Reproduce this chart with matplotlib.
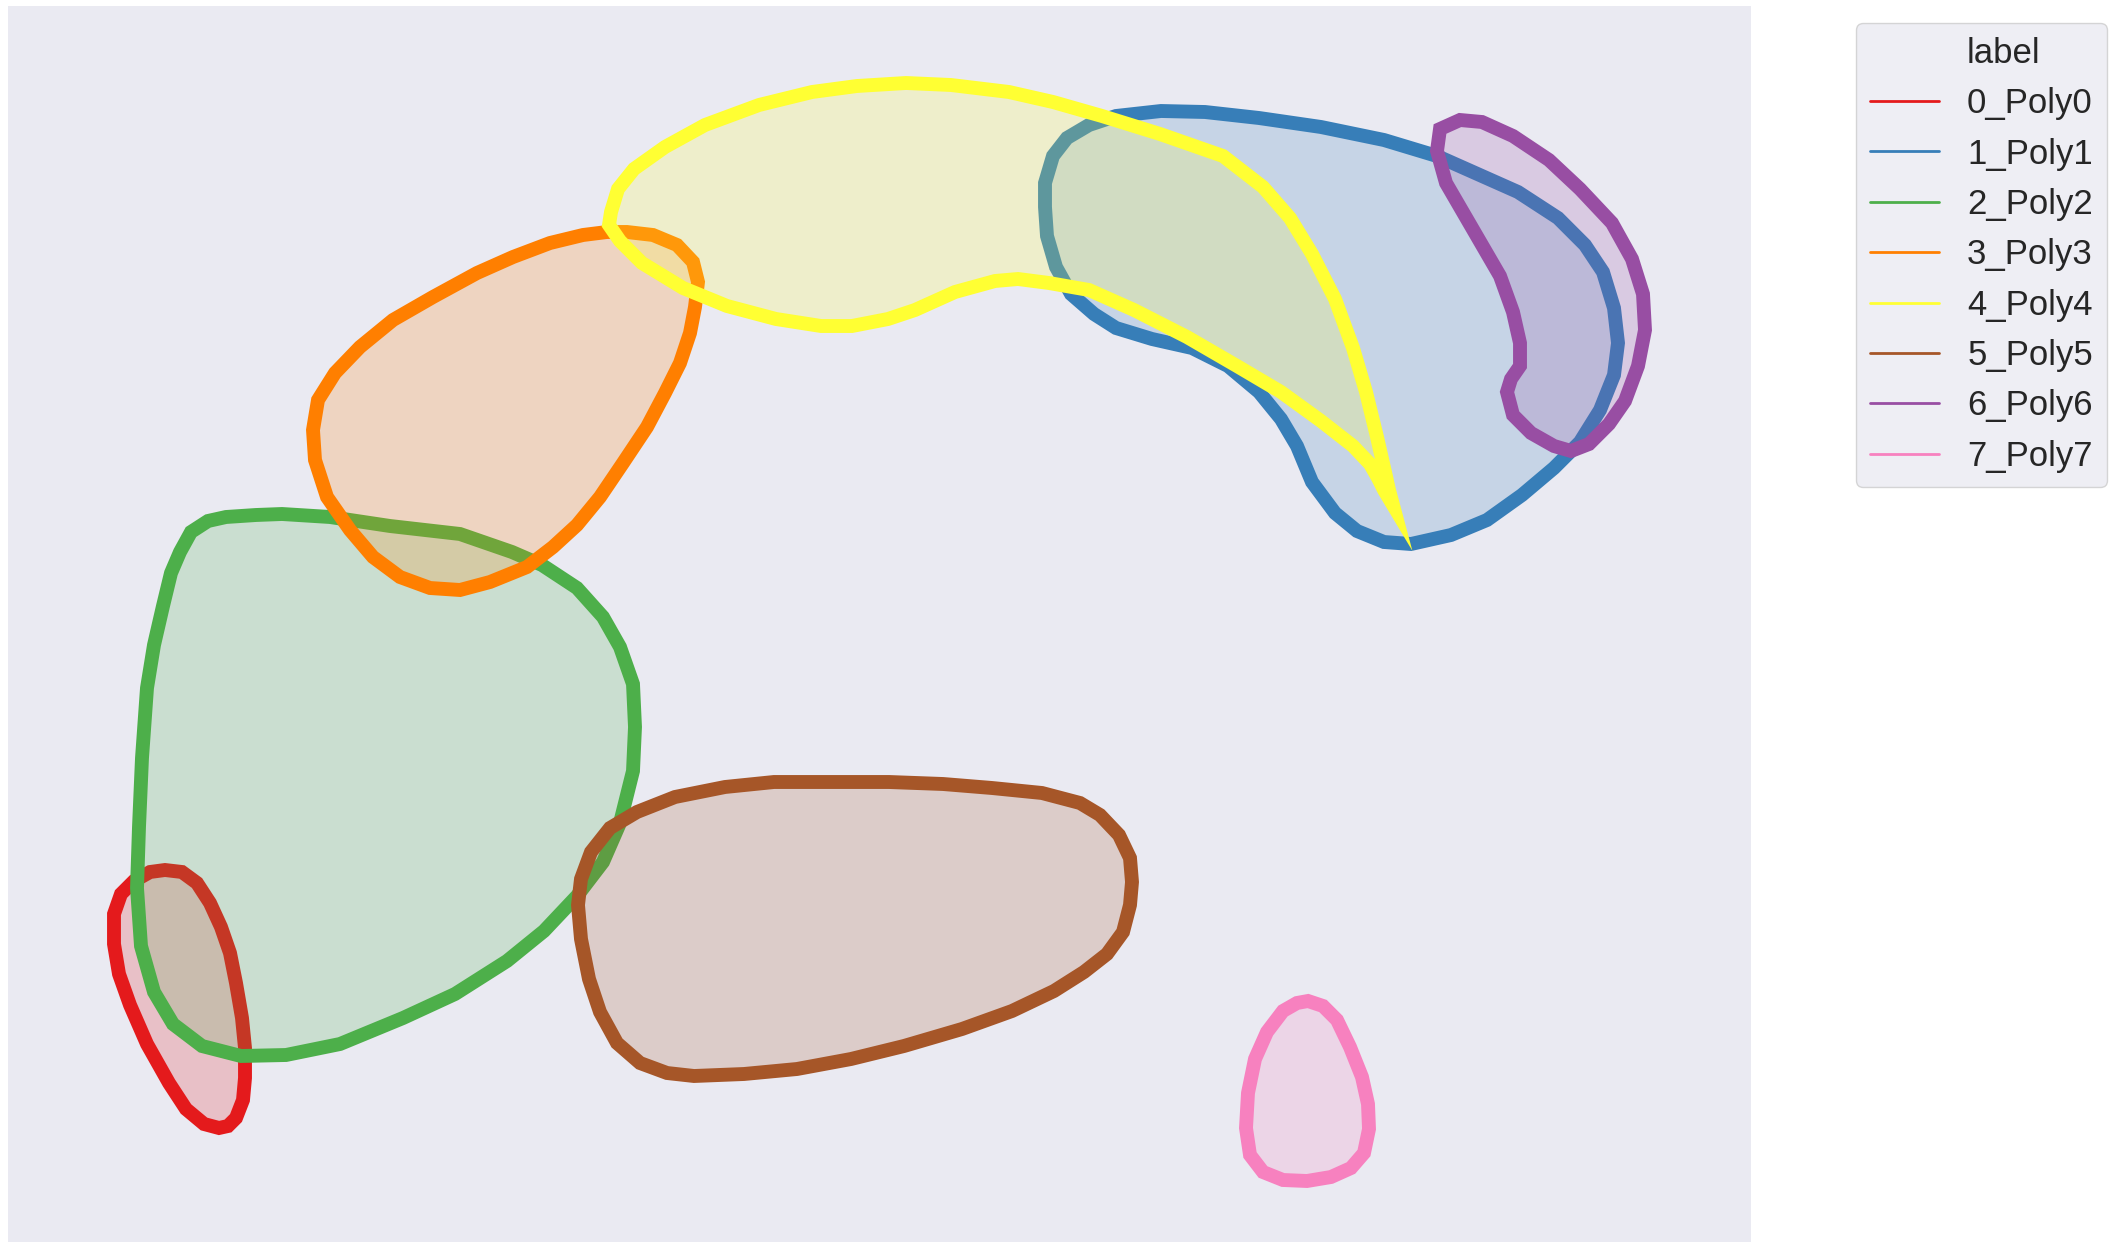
import matplotlib
matplotlib.use("Agg")
import matplotlib.pyplot as plt
from matplotlib.patches import Polygon
from matplotlib.lines import Line2D
import seaborn as sns

# polygon outlines (x, y in plot units, y grows downward)
poly0_x = [165, 182, 197, 210, 221, 230, 236, 242, 245, 245, 243, 236, 228, 219, 204, 186, 169, 147, 130, 119, 114, 114, 121, 134, 150]
poly0_y = [870, 872, 883, 903, 927, 953, 983, 1018, 1048, 1078, 1100, 1118, 1126, 1128, 1124, 1109, 1083, 1044, 1005, 974, 944, 914, 894, 881, 872]

poly1_x = [1067, 1089, 1116, 1161, 1205, 1259, 1321, 1384, 1437, 1473, 1518, 1558, 1585, 1603, 1614, 1618, 1614, 1600, 1580, 1554,
           1522, 1487, 1451, 1411, 1384, 1357, 1335, 1312, 1297, 1281, 1259, 1228, 1192, 1152, 1116, 1094, 1071, 1056, 1047, 1045, 1045, 1053]
poly1_y = [138, 125, 116, 111, 112, 118, 127, 140, 156, 172, 192, 218, 245, 272, 308, 343, 375, 410, 442, 468,
           495, 520, 535, 544, 542, 531, 513, 482, 446, 419, 392, 366, 348, 339, 328, 314, 294, 267, 236, 207, 183, 156]

poly2_x = [191, 208, 226, 256, 282, 330, 390, 460, 512, 542, 577, 603, 620, 633, 635, 633, 620, 603, 577, 544, 507, 455, 403, 340,
           286, 241, 202, 173, 154, 141, 137, 139, 142, 147, 154, 163, 171, 180]
poly2_y = [532, 521, 517, 515, 514, 517, 526, 534, 552, 565, 588, 617, 647, 684, 727, 771, 823, 862, 896, 931, 961, 994, 1018, 1044,
           1055, 1056, 1046, 1024, 992, 946, 888, 827, 758, 688, 645, 606, 573, 552]

poly3_x = [627, 653, 677, 693, 698, 695, 690, 680, 665, 647, 623, 600, 577, 553, 527, 490, 460, 430, 400, 373, 350, 327, 315, 313,
           318, 335, 360, 393, 433, 477, 513, 550, 583, 607]
poly3_y = [232, 235, 245, 262, 282, 307, 333, 363, 393, 427, 463, 497, 525, 547, 567, 582, 590, 588, 577, 557, 530, 497, 460, 430,
           400, 373, 347, 320, 297, 273, 257, 243, 235, 232]

poly4_x = [611, 618, 634, 665, 705, 759, 812, 857, 906, 951, 1009, 1053, 1102, 1160, 1223, 1263, 1290, 1312, 1335, 1353, 1366, 1377,
           1385, 1389, 1393, 1384, 1378, 1370, 1353, 1321, 1281, 1237, 1187, 1134, 1089, 1049, 1018, 995, 955, 915, 888, 852, 821,
           776, 727, 683, 642, 620, 609]
poly4_y = [212, 189, 169, 147, 125, 105, 92, 86, 83, 85, 92, 102, 116, 134, 156, 187, 218, 254, 299, 348, 392, 437,
           472, 490, 505, 490, 478, 464, 446, 421, 392, 366, 337, 310, 290, 283, 279, 281, 292, 310, 319, 326, 326,
           319, 306, 288, 263, 241, 225]

poly5_x = [774, 836, 889, 943, 992, 1042, 1080, 1100, 1119, 1130, 1132, 1130, 1123, 1107, 1084, 1054, 1012, 962, 904, 851, 797,
           744, 694, 667, 640, 617, 600, 589, 581, 578, 581, 591, 610, 637, 675, 725]
poly5_y = [782, 782, 782, 784, 788, 793, 803, 815, 835, 858, 882, 905, 932, 954, 972, 991, 1011, 1029, 1046, 1059, 1069,
           1074, 1076, 1073, 1063, 1043, 1012, 979, 939, 905, 879, 852, 828, 812, 797, 787]

poly6_x = [1440, 1460, 1482, 1513, 1549, 1580, 1612, 1632, 1643, 1645, 1638, 1625, 1609, 1589, 1571, 1554, 1531, 1513, 1507, 1511,
           1520, 1520, 1513, 1500, 1482, 1464, 1446, 1437]
poly6_y = [129, 120, 122, 136, 160, 189, 223, 259, 294, 330, 366, 401, 424, 444, 451, 446, 433, 415, 392, 379,
           366, 343, 312, 276, 245, 214, 183, 151]

poly7_x = [1308, 1323, 1337, 1350, 1362, 1368, 1369, 1364, 1351, 1331, 1307, 1283, 1263, 1250, 1246, 1248, 1255, 1267, 1283, 1297]
poly7_y = [1001, 1006, 1020, 1047, 1077, 1104, 1129, 1153, 1168, 1177, 1181, 1180, 1172, 1155, 1128, 1093, 1059, 1032, 1011, 1003]

labels = ["0_Poly0", "1_Poly1", "2_Poly2", "3_Poly3", "4_Poly4", "5_Poly5", "6_Poly6", "7_Poly7"]
colors = ["#e41a1c", "#377eb8", "#4daf4a", "#ff7f00", "#ffff33", "#a65628", "#984ea3", "#f781bf"]
xs = [poly0_x, poly1_x, poly2_x, poly3_x, poly4_x, poly5_x, poly6_x, poly7_x]
ys = [poly0_y, poly1_y, poly2_y, poly3_y, poly4_y, poly5_y, poly6_y, poly7_y]

sns.set_style("darkgrid")
plt.rcParams["font.family"] = ["Liberation Sans", "DejaVu Sans"]

fig = plt.figure(figsize=(21.22, 12.52), dpi=100)
ax = fig.add_axes([8 / 2122, 1 - 1242 / 1252, 1743 / 2122, 1236 / 1252])

for px, py, c in zip(xs, ys, colors):
    poly = Polygon(list(zip(px, py)), closed=True, facecolor=matplotlib.colors.to_rgba(c, 0.2),
                   edgecolor=c, linewidth=10)
    ax.add_patch(poly)

ax.set_xlim(8, 1751)
ax.set_ylim(1242, 6)
ax.grid(False)
ax.set_xticks([])
ax.set_yticks([])
for s in ax.spines.values():
    s.set_visible(False)

# seaborn-style legend: variable name as first entry with blank handle
handles = [Line2D([], [], linestyle="none")]
handles += [Line2D([], [], color=c, linewidth=2) for c in colors]
fig.legend(handles, ["label"] + labels, loc="upper left",
           bbox_to_anchor=(1856 / 2122, 1 - 23 / 1252), borderaxespad=0,
           fontsize=25, frameon=True)

fig.savefig("out.png", dpi=100)
